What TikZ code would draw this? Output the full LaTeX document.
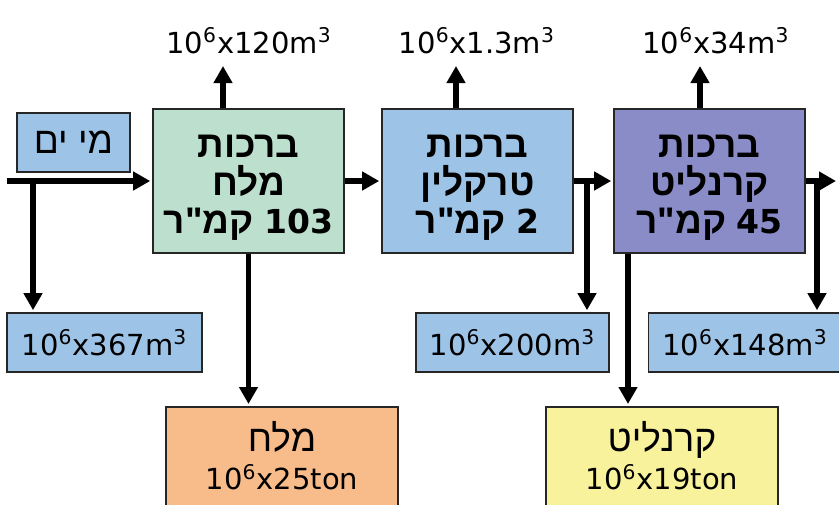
\documentclass[tikz,border=0pt]{standalone}
\usepackage{fontspec}
\setmainfont{DejaVu Sans}
\newfontfamily\hebfont[Script=Hebrew]{Liberation Sans}
\TeXXeTstate=1
\usetikzlibrary{arrows.meta, positioning}

\definecolor{seablue}{HTML}{9DC3E6}
\definecolor{saltgreen}{HTML}{BDE0CE}
\definecolor{carnpurple}{HTML}{898CC6}
\definecolor{saltorange}{HTML}{F8BC8B}
\definecolor{carnyellow}{HTML}{F8F29C}

\newcommand{\heb}[1]{{\hebfont\fontsize{18.5}{19}\selectfont\beginR #1\endR}}
\newcommand{\num}[1]{{\rmfamily\fontsize{16.5}{19}\selectfont #1}}
\newcommand{\vol}[1]{10\textsuperscript{6}x#1m\textsuperscript{3}}
\newcommand{\tons}[1]{10\textsuperscript{6}x#1ton}

\begin{document}
\begin{tikzpicture}[x=0.5pt,y=-0.5pt,>={Triangle[width=9pt,length=8.5pt]}]
        \tikzstyle{box}=[rectangle,draw=black!85,line width=0.8pt,inner sep=0pt,align=center,font=\fontsize{14.5}{19}\selectfont]
        \tikzstyle{pool}=[box,minimum width=95.5pt,minimum height=72pt,font=\fontsize{15}{19}\selectfont\bfseries]
        \tikzstyle{outbox}=[box,fill=seablue,minimum height=29.5pt]
        \tikzstyle{mineral}=[box,anchor=north,minimum width=116pt,minimum height=60pt]
        \tikzstyle{label}=[font=\fontsize{14.5}{19}\selectfont,anchor=base]
        \tikzstyle{flow}=[->,line width=2.9pt,shorten >=1pt]
        \useasboundingbox (0,0) rectangle (839,504);
        \clip (0,0) rectangle (839,504);
        % evaporation ponds
        \node[pool,fill=saltgreen] (salt) at (248.5,181) {\rule{0pt}{18pt}\heb{ברכות}\\\heb{מלח}\\\heb{\beginL\num{103}\endL\ קמ"ר}};
        \node[pool,fill=seablue] (trek) at (477.5,181) {\rule{0pt}{18pt}\heb{ברכות}\\\heb{טרקלין}\\\heb{\beginL\num{2}\endL\ קמ"ר}};
        \node[pool,fill=carnpurple] (carn) at (709.5,181) {\rule{0pt}{18pt}\heb{ברכות}\\\heb{קרנליט}\\\heb{\beginL\num{45}\endL\ קמ"ר}};
        % sea water in
        \node[box,fill=seablue,minimum width=56.5pt,minimum height=29.5pt] (sea) at (73.5,142.5) {\heb{מי ים}};
        \coordinate (in) at (7,181);
        \coordinate (split0) at (33,181);
        \coordinate (split1) at (587,181);
        \coordinate (split2) at (817,181);
        \coordinate (out) at (838,181);
        % brine returned
        \node[outbox,minimum width=97.5pt] (ret0) at (104.5,342.5) {\vol{367}};
        \node[outbox,minimum width=96.5pt] (ret1) at (512.5,342.5) {\vol{200}};
        \node[outbox,minimum width=96.5pt] (ret2) at (745,342.5) {\vol{148}};
        % products (cut by the page edge)
        \node[mineral,fill=saltorange] (nacl) at (282,406) {\heb{מלח}\\\tons{25}\rule[-11pt]{0pt}{0pt}};
        \node[mineral,fill=carnyellow] (kcl) at (662,406) {\heb{קרנליט}\\\tons{19}\rule[-11pt]{0pt}{0pt}};
        % evaporated water
        \node[label] (evap0) at (249,53) {\vol{120}};
        \node[label] (evap1) at (477,53) {\vol{1.3}};
        \node[label] (evap2) at (716,53) {\vol{34}};
        \coordinate (up0) at (223,66);
        \coordinate (up1) at (456,66);
        \coordinate (up2) at (700,66);
        \coordinate (dn2) at (628,0);
        \draw[flow] (in)--(in -| salt.west);
        \draw[flow] (salt.east |- in)--(in -| trek.west);
        \draw[flow] (trek.east |- in)--(in -| carn.west);
        \draw[flow] (carn.east |- in)--(out);
        \draw[flow] (split0)--(split0 |- ret0.north);
        \draw[flow] (split1)--(split1 |- ret1.north);
        \draw[flow] (split2)--(split2 |- ret2.north);
        \draw[flow] (salt.south)--(salt.south |- nacl.north);
        \draw[flow] (dn2 |- carn.south)--(dn2 |- kcl.north);
        \draw[flow,shorten >=0pt] (up0 |- salt.north)--(up0);
        \draw[flow,shorten >=0pt] (up1 |- trek.north)--(up1);
        \draw[flow,shorten >=0pt] (up2 |- carn.north)--(up2);
    \end{tikzpicture}
\end{document}
